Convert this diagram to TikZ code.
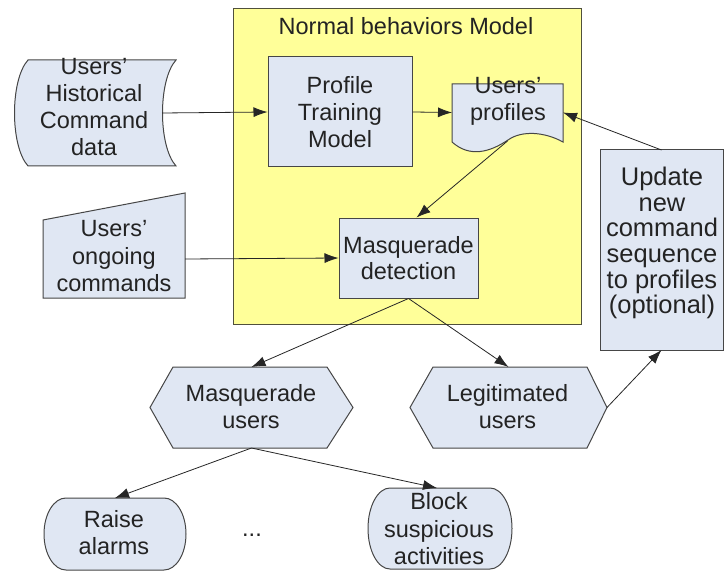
\documentclass[tikz,border=0pt]{standalone}
\usepackage{fontspec}
\setmainfont{Liberation Sans}
\usetikzlibrary{arrows.meta}
\definecolor{boxfill}{RGB}{224,231,243}
\definecolor{modelfill}{RGB}{255,255,153}
\definecolor{edgegray}{RGB}{70,70,70}
\definecolor{modeledge}{RGB}{80,80,60}
\definecolor{txt}{RGB}{35,35,35}
\begin{document}
\begin{tikzpicture}[x=1pt,y=-1pt,
  every node/.style={font=\fontsize{23.5}{27}\selectfont},
  shapeline/.style={draw=edgegray, fill=boxfill, line width=1pt},
  lbl/.style={align=center, inner sep=0pt, text=txt},
  frm/.style={inner sep=0pt, outer sep=0pt},
  conn/.style={-{Latex[length=14pt,width=10pt]}, line width=0.8pt, draw=black!85}]
\useasboundingbox (0,0) rectangle (725,572);
\begin{scope}
\clip (0,0) rectangle (725,572);
\fill[white] (0,0) rectangle (725,572);

% model container
\node[shapeline, frm, draw=modeledge, fill=modelfill, minimum width=348pt, minimum height=315pt] (model) at (407,166.5) {};
\node[lbl] (title) at (406,26.5) {Normal behaviors Model};

% profile training model
\node[shapeline, lbl, minimum width=144pt, minimum height=110pt] (ptm) at (340,112) {Profile\\Training\\Model};

% users' profiles (document)
\draw[shapeline] (452,84) -- (563,84) -- (563,142)
  .. controls (545,132) and (522,130) .. (508,140)
  .. controls (490,152) and (470,158) .. (452,142) -- cycle;
\node[frm, minimum width=111pt, minimum height=57pt] (prof) at (507.5,112.5) {};
\node[lbl] (proftxt) at (508,101) {Users'\\profiles};

% historical data (stored data)
\draw[shapeline] (28,60) -- (176,60)
  .. controls (158,80) and (158,146) .. (176,166) -- (28,166)
  .. controls (10,146) and (10,80) .. (28,60) -- cycle;
\node[frm, minimum width=148pt, minimum height=106pt] (hist) at (88,113) {};
\node[lbl] (histtxt) at (94,107) {Users'\\Historical\\Command\\data};

% ongoing commands (manual input)
\draw[shapeline] (43,220) -- (185,193) -- (185,298) -- (43,298) -- cycle;
\node[frm, minimum width=142pt, minimum height=78pt] (ongoing) at (114,259) {};
\node[lbl, font=\fontsize{23.5}{27.5}\selectfont] (ongtxt) at (114,256.5) {Users'\\ongoing\\commands};

% masquerade detection
\node[shapeline, lbl, minimum width=139pt, minimum height=80pt, font=\fontsize{23.5}{25.5}\selectfont] (md) at (408.5,258) {Masquerade\\detection};

% update box
\node[shapeline, frm, minimum width=123pt, minimum height=200pt] (upd) at (661.5,250) {};
\node[lbl, font=\fontsize{25.5}{25.7}\selectfont] (updtxt) at (662,243) {Update\\new\\command\\sequence\\to profiles\\(optional)};

% masquerade users hexagon
\draw[shapeline] (150,407.5) -- (173,367) -- (327,367) -- (353,407.5) -- (327,448) -- (173,448) -- cycle;
\node[frm, minimum width=203pt, minimum height=81pt] (musers) at (251.5,407.5) {};
\node[lbl, font=\fontsize{23.5}{26.5}\selectfont] (mutxt) at (251,406.5) {Masquerade\\users};

% legitimated users hexagon
\draw[shapeline] (410,407.5) -- (433,367) -- (587,367) -- (607,407.5) -- (587,448) -- (433,448) -- cycle;
\node[frm, minimum width=197pt, minimum height=81pt] (lusers) at (508.5,407.5) {};
\node[lbl, font=\fontsize{23.5}{26.5}\selectfont] (lutxt) at (507.5,406.5) {Legitimated\\users};

% bottom actions (terminator shapes)
\draw[shapeline] (66,498) -- (164,498) arc[start angle=90, end angle=-90, x radius=22pt, y radius=36pt]
  -- (66,570) arc[start angle=270, end angle=90, x radius=22pt, y radius=36pt] -- cycle;
\node[frm, minimum width=142pt, minimum height=72pt] (raise) at (115,534) {};
\node[lbl] (raisetxt) at (114,533) {Raise\\alarms};
\draw[shapeline] (390,488) -- (490,488) arc[start angle=90, end angle=-90, x radius=22pt, y radius=40.5pt]
  -- (390,569) arc[start angle=270, end angle=90, x radius=22pt, y radius=40.5pt] -- cycle;
\node[frm, minimum width=144pt, minimum height=81pt] (block) at (440,528.5) {};
\node[lbl, font=\fontsize{23.5}{27.5}\selectfont] (blocktxt) at (439,529) {Block\\suspicious\\activities};
\node[lbl] (dots) at (252,535) {...};

% connectors
\draw[conn] (hist.east) -- (ptm.west);
\draw[conn] (ptm.east) -- (prof.west);
\draw[conn] (prof.south) -- ([xshift=8pt]md.north);
\draw[conn] (upd.north) -- (prof.east);
\draw[conn] (ongoing.east) -- (md.west);
\draw[conn] (md.south) -- (musers.north);
\draw[conn] (md.south) -- (lusers.north);
\draw[conn] (lusers.east) -- (upd.south);
\draw[conn] (musers.south) -- (raise.north);
\draw[conn] (musers.south) -- ([xshift=-3pt]block.north);
\end{scope}
\end{tikzpicture}
\end{document}
